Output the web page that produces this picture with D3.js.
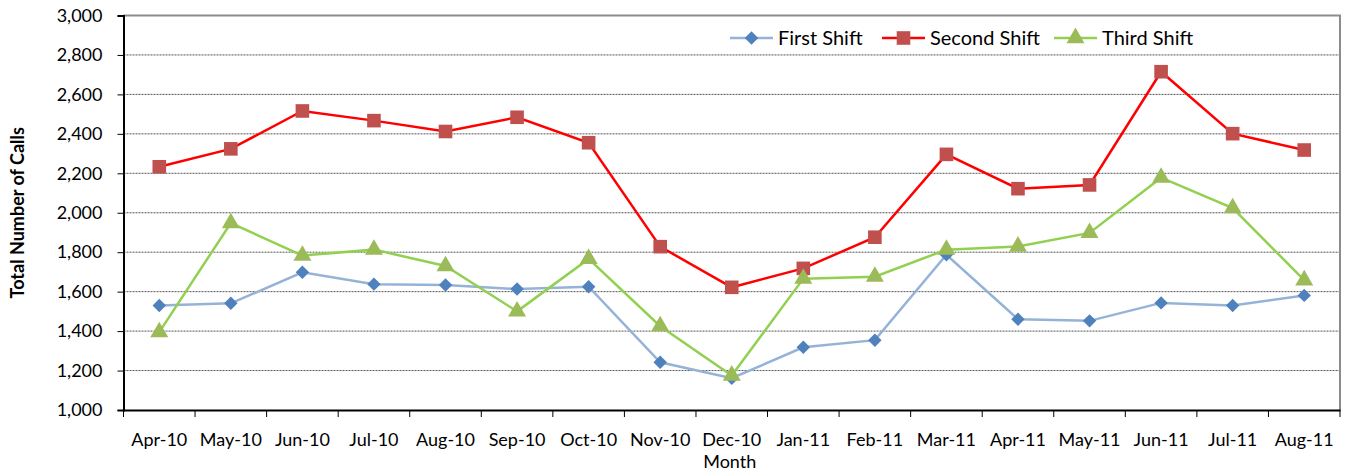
<!DOCTYPE html>
<html>
<head>
<meta charset="utf-8">
<script src="https://cdn.jsdelivr.net/npm/d3@7"></script>
<style>
  body { margin: 0; background: #fff; }
  text { font-family: Lato, "Open Sans", sans-serif; fill: #000; }
</style>
</head>
<body>
<div id="chart"></div>
<script>
// data
const months = ["Apr-10", "May-10", "Jun-10", "Jul-10", "Aug-10", "Sep-10", "Oct-10", "Nov-10", "Dec-10",
    "Jan-11", "Feb-11", "Mar-11", "Apr-11", "May-11", "Jun-11", "Jul-11", "Aug-11"];
const firstShift = [1530, 1541, 1698, 1638, 1634, 1613, 1625, 1242, 1161, 1318, 1354, 1787, 1460, 1452, 1543, 1530, 1581];
const secondShift = [2233, 2324, 2516, 2467, 2412, 2484, 2355, 1828, 1622, 1718, 1876, 2296, 2122, 2141, 2715, 2401, 2318];
const thirdShift = [1395, 1948, 1783, 1813, 1730, 1500, 1766, 1425, 1175, 1666, 1676, 1813, 1829, 1898, 2178, 2024, 1658];
const yTicks = [1000, 1200, 1400, 1600, 1800, 2000, 2200, 2400, 2600, 2800, 3000];

const series = [
    {name: "First Shift", values: firstShift, line: "#95B3D7", marker: "#4F81BD", shape: "diamond"},
    {name: "Second Shift", values: secondShift, line: "#FF0000", marker: "#C0504D", shape: "square"},
    {name: "Third Shift", values: thirdShift, line: "#92D050", marker: "#9BBB59", shape: "triangle"}
];

const W = 1346, H = 472;
const margin = {top: 15.5, right: 6, bottom: 62, left: 123.5};
const iw = W - margin.left - margin.right;
const ih = H - margin.top - margin.bottom;

const svg = d3.select("#chart").append("svg")
    .attr("width", W)
    .attr("height", H);

const g = svg.append("g")
    .attr("transform", `translate(${margin.left},${margin.top})`);

const x = d3.scaleBand().domain(months).range([0, iw]);
const y = d3.scaleLinear().domain([1000, 3000]).range([ih, 0]);
const cx = d => x(d) + x.bandwidth() / 2;

// gridlines
g.selectAll(".grid")
    .data(yTicks.filter(t => t > 1000 && t < 3000))
    .enter().append("line")
    .attr("x1", 0).attr("x2", iw)
    .attr("y1", d => y(d)).attr("y2", d => y(d))
    .attr("stroke", "#555")
    .attr("stroke-width", 1)
    .attr("stroke-dasharray", "2,1");

// top and right border
g.append("path")
    .attr("d", `M0,0H${iw}V${ih}`)
    .attr("fill", "none")
    .attr("stroke", "#8c8c8c")
    .attr("stroke-width", 2);

// axes
const yAxis = g.append("g")
    .call(d3.axisLeft(y).tickValues(yTicks).tickSize(6).tickPadding(15).tickFormat(d3.format(",")));
yAxis.select(".domain").attr("stroke", "#000").attr("stroke-width", 2);
yAxis.selectAll("text").style("font-size", "18px");

const xAxis = g.append("g")
    .attr("transform", `translate(0,${ih})`)
    .call(d3.axisBottom(x).tickSize(0).tickPadding(23));
xAxis.select(".domain").attr("stroke", "#000").attr("stroke-width", 2);
xAxis.selectAll("text").style("font-size", "18px");

// ticks on category boundaries
xAxis.selectAll(".bound")
    .data(months.concat("end"))
    .enter().append("line")
    .attr("x1", (d, i) => i * x.step()).attr("x2", (d, i) => i * x.step())
    .attr("y1", 0).attr("y2", 7)
    .attr("stroke", "#000");

// axis titles
svg.append("text")
    .attr("transform", `translate(24,${margin.top + ih / 2}) rotate(-90)`)
    .attr("text-anchor", "middle")
    .style("font-size", "18px")
    .style("font-weight", "bold")
    .text("Total Number of Calls");

svg.append("text")
    .attr("x", margin.left + iw / 2 - 2)
    .attr("y", 468)
    .attr("text-anchor", "middle")
    .style("font-size", "18px")
    .text("Month");

function symbolFor(shape) {
    if (shape === "diamond") return d3.symbol().type(d3.symbolDiamond2).size(115);
    if (shape === "square") return d3.symbol().type(d3.symbolSquare).size(185);
    return d3.symbol().type(d3.symbolTriangle).size(140);
}

const line = d3.line()
    .x((d, i) => cx(months[i]))
    .y(d => y(d));

series.forEach(s => {
    g.append("path")
        .attr("d", line(s.values))
        .attr("fill", "none")
        .attr("stroke", s.line)
        .attr("stroke-width", 2.5);

    g.selectAll(null)
        .data(s.values)
        .enter().append("path")
        .attr("transform", (d, i) => `translate(${cx(months[i])},${y(d)})`)
        .attr("d", symbolFor(s.shape))
        .attr("fill", s.marker);
});

// legend
const legendX = [730, 882, 1054];
const legend = svg.selectAll(".legend")
    .data(series)
    .enter().append("g")
    .attr("transform", (d, i) => `translate(${legendX[i]},38)`);

legend.append("line")
    .attr("x1", 0).attr("x2", 43)
    .attr("stroke", d => d.line)
    .attr("stroke-width", 2.5);

legend.append("path")
    .attr("transform", "translate(21.5,0)")
    .attr("d", d => symbolFor(d.shape)())
    .attr("fill", d => d.marker);

legend.append("text")
    .attr("x", 48)
    .attr("dy", "0.35em")
    .style("font-size", "20px")
    .text(d => d.name);
</script>
</body>
</html>
